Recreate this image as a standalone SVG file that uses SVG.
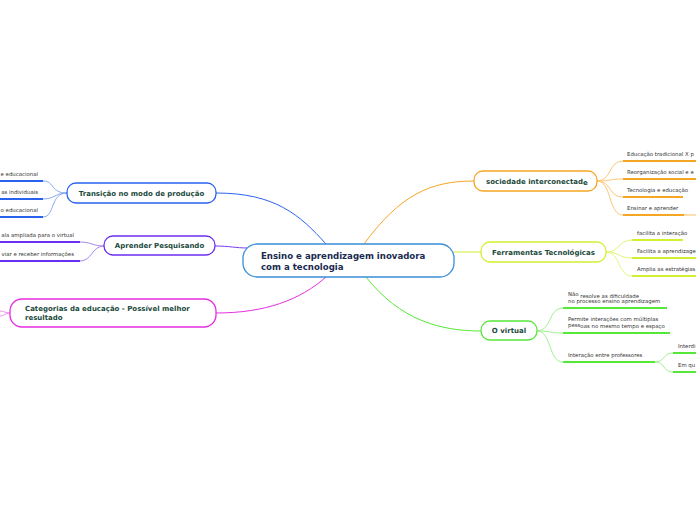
<svg xmlns="http://www.w3.org/2000/svg" width="696" height="520" viewBox="0 0 696 520">
<style>
.t{font-family:"DejaVu Sans",Verdana,sans-serif;font-size:5.4px;fill:#333}
.n{font-family:"DejaVu Sans",Verdana,sans-serif;font-size:7px;font-weight:bold;fill:#1b4a3c}
.c{font-family:"DejaVu Sans",Verdana,sans-serif;font-size:8.6px;font-weight:bold;fill:#1a2a50}
.box{fill:#fff;stroke-width:1.3}
.u{stroke-width:2;fill:none}
.k{fill:none;stroke-width:1}
</style>
<rect width="696" height="520" fill="#fff"/>
<g id="connectors">
<path class="k" d="M216,193 C275,193 300,215 326,244" stroke="#2a62f0" stroke-width="1.2"/>
<path class="k" d="M215,246 C230,246 235,248 248,248" stroke="#7a3af0" stroke-width="1.2"/>
<path class="k" d="M216,313 C265,313 300,300 326,277" stroke="#e52ee0" stroke-width="1.2"/>
<path class="k" d="M364,244 C400,195 430,181 474,181" stroke="#f5a623" stroke-width="1.2"/>
<path class="k" d="M454,252 L481,252" stroke="#d4ee30" stroke-width="1.2"/>
<path class="k" d="M366,277 C400,320 440,331 481,331" stroke="#55e838" stroke-width="1.2"/>
<path class="k" d="M67,193 C50,193 55,181 43,181" stroke="#8aa8f0"/>
<path class="k" d="M67,193 C55,193 55,199 43,199" stroke="#8aa8f0"/>
<path class="k" d="M67,193 C50,193 55,217 43,217" stroke="#8aa8f0"/>
<path class="k" d="M104,246 C92,246 92,242 80,242" stroke="#a888f0"/>
<path class="k" d="M104,246 C92,246 92,261 80,261" stroke="#a888f0"/>
<path class="k" d="M10,313 C5,313 4,311 0,311" stroke="#f090e8"/>
<path class="k" d="M10,313 C5,313 4,316 0,316" stroke="#f090e8"/>
<path class="k" d="M597,181 C612,181 608,161 623,161" stroke="#fbc878"/>
<path class="k" d="M597,181 C612,181 608,179 623,179" stroke="#fbc878"/>
<path class="k" d="M597,181 C612,181 608,197 623,197" stroke="#fbc878"/>
<path class="k" d="M597,181 C612,181 608,215 623,215" stroke="#fbc878"/>
<path class="k" d="M606,252 C620,252 618,240 632,240" stroke="#e4f478"/>
<path class="k" d="M606,252 C620,252 618,258 632,258" stroke="#e4f478"/>
<path class="k" d="M606,252 C620,252 618,276 632,276" stroke="#e4f478"/>
<path class="k" d="M537,331 C552,331 548,308 563,308" stroke="#a0f090"/>
<path class="k" d="M537,331 C552,331 548,333 563,333" stroke="#a0f090"/>
<path class="k" d="M537,331 C552,331 548,362 563,362" stroke="#a0f090"/>
<path class="k" d="M655,362 C665,362 663,353 673,353" stroke="#a0f090"/>
<path class="k" d="M655,362 C665,362 663,372 673,372" stroke="#a0f090"/>
</g>
<g id="central">
<rect class="box" x="243" y="244" width="211" height="33" rx="14" stroke="#3a8fd6"/>
<text class="c" x="261" y="259">Ensino e aprendizagem inovadora</text>
<text class="c" x="261" y="270">com a tecnologia</text>
</g>
<g id="transicao">
<rect class="box" x="67" y="183" width="149" height="20" rx="9" stroke="#2a62f0"/>
<text class="n" x="141.5" y="195.5" text-anchor="middle">Transição no modo de produção</text>
</g>
<g id="transicao-1"><text class="t" x="38" y="176" text-anchor="end">e educacional</text><path class="u" d="M0,181 H43" stroke="#2a62f0"/></g>
<g id="transicao-2"><text class="t" x="38" y="194" text-anchor="end">as individuais</text><path class="u" d="M0,199 H43" stroke="#2a62f0"/></g>
<g id="transicao-3"><text class="t" x="38" y="212" text-anchor="end">o educacional</text><path class="u" d="M0,217 H43" stroke="#2a62f0"/></g>
<g id="aprender">
<rect class="box" x="104" y="236" width="111" height="19" rx="9" stroke="#6a2ef0"/>
<text class="n" x="159.5" y="247.5" text-anchor="middle">Aprender Pesquisando</text>
</g>
<g id="aprender-1"><text class="t" x="74" y="237" text-anchor="end">ala ampliada para o virtual</text><path class="u" d="M0,242 H80" stroke="#6a2ef0"/></g>
<g id="aprender-2"><text class="t" x="74" y="255.5" text-anchor="end">viar e receber informações</text><path class="u" d="M0,261 H80" stroke="#6a2ef0"/></g>
<g id="categorias">
<rect class="box" x="10" y="299" width="206" height="28" rx="12" stroke="#e52ee0"/>
<text class="n" x="25" y="311">Categorias da educação - Possível melhor</text>
<text class="n" x="25" y="320">resultado</text>
</g>
<g id="sociedade">
<rect class="box" x="474" y="171" width="123" height="20" rx="9" stroke="#f5a623"/>
<text class="n" x="486" y="183.5">sociedade interconectad<tspan dy="1.5">e</tspan></text>
</g>
<g id="sociedade-1"><text class="t" x="627" y="156">Educação tradicional X p</text><path class="u" d="M623,161 H696" stroke="#f5a623"/></g>
<g id="sociedade-2"><text class="t" x="627" y="174">Reorganização social e e</text><path class="u" d="M623,179 H696" stroke="#f5a623"/></g>
<g id="sociedade-3"><text class="t" x="627" y="192">Tecnologia e educação</text><path class="u" d="M623,197 H683" stroke="#f5a623"/></g>
<g id="sociedade-4"><text class="t" x="627" y="210">Ensinar e aprender</text><path class="u" d="M623,215 H684" stroke="#f5a623"/><path class="u" d="M684,215 H696" stroke="#fde0b0"/></g>
<g id="ferramentas">
<rect class="box" x="481" y="242" width="125" height="20" rx="9" stroke="#d4ee30"/>
<text class="n" x="543.5" y="254.5" text-anchor="middle">Ferramentas Tecnológicas</text>
</g>
<g id="ferramentas-1"><text class="t" x="637" y="235">facilita a interação</text><path class="u" d="M632,240 H683" stroke="#d4ee30"/></g>
<g id="ferramentas-2"><text class="t" x="637" y="253">Facilita a aprendizage</text><path class="u" d="M632,258 H696" stroke="#d4ee30"/></g>
<g id="ferramentas-3"><text class="t" x="637" y="271">Amplia as estratégias</text><path class="u" d="M632,276 H696" stroke="#d4ee30"/></g>
<g id="virtual">
<rect class="box" x="481" y="321" width="56" height="19" rx="9" stroke="#55e838"/>
<text class="n" x="509" y="333" text-anchor="middle">O virtual</text>
</g>
<g id="virtual-1"><text class="t" x="568" y="296" font-size="5">Não<tspan dy="1.5" font-size="5.4"> resolve as dificuldade</tspan></text><text class="t" x="568" y="303">no processo ensino aprendizagem</text><path class="u" d="M563,308 H667" stroke="#55e838"/></g>
<g id="virtual-2"><text class="t" x="568" y="321">Permite interações com múltiplas</text><text class="t" x="568" y="327">pess<tspan dy="1.3">oas no mesmo tempo e espaço</tspan></text><path class="u" d="M563,333 H670" stroke="#55e838"/></g>
<g id="virtual-3"><text class="t" x="568" y="357">Interação entre professores</text><path class="u" d="M563,362 H655" stroke="#55e838"/></g>
<g id="virtual-3-1"><text class="t" x="678" y="348">Interdi</text><path class="u" d="M673,353 H696" stroke="#55e838"/></g>
<g id="virtual-3-2"><text class="t" x="678" y="367">Em qu</text><path class="u" d="M673,372 H696" stroke="#55e838"/></g>
</svg>
